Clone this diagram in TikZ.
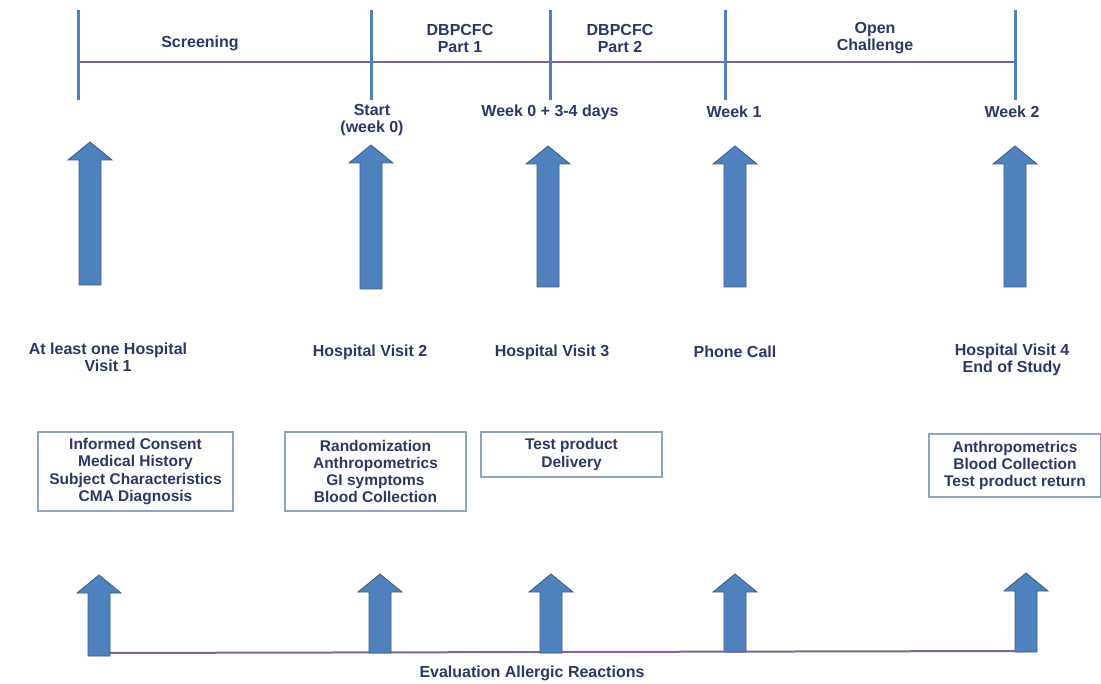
\documentclass[tikz,border=0pt]{standalone}
\usepackage{fontspec}
\setmainfont{Liberation Sans}
\usepackage{tikz}
\usepackage{xcolor}
\definecolor{navy}{RGB}{43,56,100}
\definecolor{arrowblue}{RGB}{79,129,189}
\definecolor{arrowedge}{RGB}{56,93,138}
\definecolor{lineviolet}{RGB}{128,100,162}
\definecolor{boxedge}{RGB}{140,165,195}

\begin{document}
\begin{tikzpicture}[x=1pt,y=-1pt,
    lbl/.style={text=navy,font=\fontsize{16}{17}\selectfont\bfseries,align=center,inner sep=0pt},
    infobox/.style={draw=boxedge,line width=1.3pt,text=navy,font=\fontsize{15.5}{17.3}\selectfont\bfseries,align=center,inner sep=0pt},
    tickline/.style={draw=arrowblue,line width=3pt},
    period/.style={draw=lineviolet,line width=2.5pt},
    blockarrow/.style={fill=arrowblue,draw=arrowedge,line width=0.8pt,line join=miter}]
    \useasboundingbox (0,0) rectangle (1101,684);
    % time line with the phases
    \foreach \name/\x in {t1/78,t2/371,t3/550,t4/725,t5/1015} {
        \coordinate (\name top) at (\x,10);
        \coordinate (\name) at (\x,62);
        \coordinate (\name bot) at (\x,100);
    }
    \draw[period] (t1) -- (t2) -- (t3) -- (t4) -- (t5);
    \foreach \name in {t1,t2,t3,t4,t5}
        \draw[tickline] (\name top) -- (\name bot);
    \node[lbl] (screening) at (200,43) {Screening};
    \node[lbl] (part1) at (460,38) {DBPCFC\\Part 1};
    \node[lbl] (part2) at (620,38) {DBPCFC\\Part 2};
    \node[lbl] (opench) at (875,38) {Open\\Challenge};
    \node[lbl] (start) at (372,120) {Start\\(week 0)};
    \node[lbl] (wk0) at (550,112) {Week 0 + 3-4 days};
    \node[lbl] (wk1) at (734,112) {Week 1};
    \node[lbl] (wk2) at (1012,112) {Week 2};
    % big arrows
    \foreach \x/\ytop/\ybot in {90/142/285,371/145/289,548/146/287,735/146/287,1015/146/287}
        \draw[blockarrow] ({\x-11},\ybot) -- ({\x-11},{\ytop+18}) -- ({\x-22},{\ytop+18}) -- (\x,\ytop)
            -- ({\x+22},{\ytop+18}) -- ({\x+11},{\ytop+18}) -- ({\x+11},\ybot) -- cycle;
    % visits
    \node[lbl] (visit1) at (108,357) {At least one Hospital\\Visit 1};
    \node[lbl] (visit2) at (370,352) {Hospital Visit 2};
    \node[lbl] (visit3) at (552,352) {Hospital Visit 3};
    \node[lbl] (phone) at (735,352) {Phone Call};
    \node[lbl] (visit4) at (1012,360) {Hospital Visit 4\\End of Study};
    % what happens at each visit
    \node[infobox,minimum width=195pt,minimum height=79pt] (box1) at (135.5,471.5)
        {Informed Consent\\Medical History\\Subject Characteristics\\CMA Diagnosis};
    \node[infobox,minimum width=181pt,minimum height=79pt] (box2) at (375.5,471.5)
        {Randomization\\Anthropometrics\\GI symptoms\\Blood Collection};
    \node[infobox,minimum width=181pt,minimum height=45pt] (box3) at (571.5,454.5)
        {Test product\\Delivery};
    \node[infobox,minimum width=172pt,minimum height=63pt] (box4) at (1015,465.5)
        {Anthropometrics\\Blood Collection\\Test product return};
    % allergic reactions
    \coordinate (ev1) at (99,653);
    \coordinate (ev5) at (1026,651);
    \draw[period,line width=2pt] (ev1) -- (ev5);
    \foreach \x/\ytop/\ybot in {99/575/656,380/574/653,551/574/653,735/574/652,1026/573/652}
        \draw[blockarrow] ({\x-11},\ybot) -- ({\x-11},{\ytop+18}) -- ({\x-22},{\ytop+18}) -- (\x,\ytop)
            -- ({\x+22},{\ytop+18}) -- ({\x+11},{\ytop+18}) -- ({\x+11},\ybot) -- cycle;
    \node[lbl] (evaluation) at (532,673) {Evaluation Allergic Reactions};
\end{tikzpicture}
\end{document}
